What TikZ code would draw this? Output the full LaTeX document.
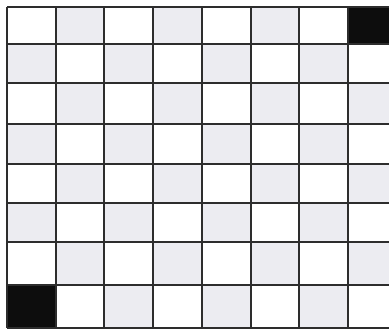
\documentclass[tikz,border=0pt]{standalone}
\definecolor{boardgray}{RGB}{236,236,241}
\definecolor{boardink}{RGB}{45,45,45}
\tikzset{
  lite/.style={fill=boardgray},
  dark/.style={fill=black!95},
  gridline/.style={draw=boardink, line width=1.2pt},
}
\def\colx{{7.3,55.7,104.3,153.3,202.3,250.7,299.3,348.3,397}}
\def\rowy{{6.7,44.3,83.3,124.3,164.3,203.3,242.3,285,328}}

\begin{document}
\begin{tikzpicture}[x=0.25mm, y=-0.25mm]
  \useasboundingbox (0,0) rectangle (389,329);
  \clip (0,0) rectangle (389,329);
  \fill[white] (0,0) rectangle (389,329);
  % light squares
  \foreach \r in {0,...,7}
    \foreach \c in {0,...,7} {
      \pgfmathtruncatemacro\odd{mod(\r+\c,2)}
      \pgfmathsetmacro\xa{\colx[\c]}
      \pgfmathsetmacro\xb{\colx[\c+1]}
      \pgfmathsetmacro\ya{\rowy[\r]}
      \pgfmathsetmacro\yb{\rowy[\r+1]}
      \ifnum\odd=1 \fill[lite] (\xa,\ya) rectangle (\xb,\yb); \fi
    }
  % the two black corners
  \fill[dark] (348.3,6.7) rectangle (397,44.3);
  \fill[dark] (7.3,285) rectangle (55.7,328);
  % grid
  \foreach \c in {0,...,7} {
    \pgfmathsetmacro\xa{\colx[\c]}
    \draw[gridline] (\xa,6.7) -- (\xa,328);
  }
  \foreach \r in {0,...,8} {
    \pgfmathsetmacro\ya{\rowy[\r]}
    \draw[gridline] (7.3,\ya) -- (397,\ya);
  }
\end{tikzpicture}
\end{document}
